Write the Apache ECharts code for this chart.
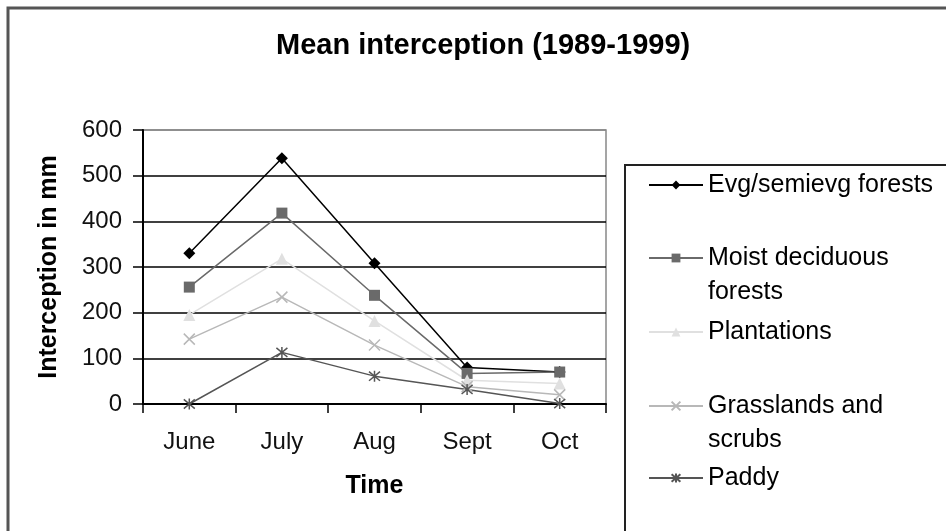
<!DOCTYPE html>
<html>
<head>
<meta charset="utf-8">
<script src="https://cdn.jsdelivr.net/npm/echarts@6/dist/echarts.min.js"></script>
<style>
  html, body { margin: 0; padding: 0; background: #fff; }
  #chart { width: 946px; height: 531px; }
</style>
</head>
<body>
<div id="chart"></div>
<script>
const months = ['June', 'July', 'Aug', 'Sept', 'Oct']
const evgForests = [330, 538, 308, 80, 70]
const moistForests = [256, 418, 238, 67, 70]
const plantations = [195, 318, 182, 52, 45]
const grasslands = [142, 234, 129, 38, 20]
const paddy = [0, 113, 61, 32, 1]

const font = 'Liberation Sans, Arial, sans-serif'
const crossPath = 'path://M0,0L10,10M10,0L0,10'
const starPath = 'path://M0,0L10,10M10,0L0,10M5,-1L5,11'

const chart = echarts.init(document.getElementById('chart'))

// one small legend per entry so the rows can sit where the reference has them
const legendRow = (name, centerY, lines) => ({
  data: [name],
  left: 648,
  top: centerY - (lines === 3 ? 51 : 17),
  padding: 0,
  itemWidth: 54,
  itemHeight: 11,
  itemGap: 5,
  selectedMode: false,
  formatter: (n) => {
    if (n === 'Moist deciduous forests') return '\nMoist deciduous\nforests'
    if (n === 'Grasslands and scrubs') return '\nGrasslands and\nscrubs'
    return n
  },
  textStyle: { fontFamily: font, fontSize: 25, color: '#000', lineHeight: 34 },
})

const lineSeries = (name, data, color, symbol, size, extra) => Object.assign({
  name: name,
  type: 'line',
  data: data,
  symbol: symbol,
  symbolSize: size,
  showAllSymbol: true,
  lineStyle: { color: color, width: 1.5 },
  itemStyle: { color: color, borderColor: color, borderWidth: 0 },
}, extra || {})

chart.setOption({
  animation: false,
  backgroundColor: '#fff',
  title: {
    text: 'Mean interception (1989-1999)',
    left: 276,
    top: 31,
    padding: 0,
    textStyle: { fontFamily: font, fontSize: 29, fontWeight: 'bold', color: '#000' },
  },
  graphic: [
    // outer chart frame, running off the right and bottom edge
    { type: 'rect', shape: { x: 8, y: 8, width: 1100, height: 700 }, style: { fill: 'none', stroke: '#555', lineWidth: 3 }, z: 0 },
    // legend frame
    { type: 'rect', shape: { x: 625, y: 165, width: 500, height: 500 }, style: { fill: 'none', stroke: '#222', lineWidth: 2 }, z: 0 },
  ],
  legend: [
    legendRow('Evg/semievg forests', 185, 1),
    legendRow('Moist deciduous forests', 258, 3),
    legendRow('Plantations', 332, 1),
    legendRow('Grasslands and scrubs', 406, 3),
    legendRow('Paddy', 478, 1),
  ],
  grid: {
    left: 143,
    right: 340,
    top: 130,
    bottom: 127,
    show: true,
    borderColor: '#888',
    borderWidth: 1.5,
  },
  xAxis: {
    type: 'category',
    data: months,
    boundaryGap: true,
    name: 'Time',
    nameLocation: 'middle',
    nameGap: 70,
    nameTextStyle: { fontFamily: font, fontSize: 25, fontWeight: 'bold', color: '#000' },
    axisLine: { lineStyle: { color: '#000', width: 2 } },
    axisTick: { show: true, length: 9, lineStyle: { color: '#000', width: 1.5 } },
    axisLabel: { fontFamily: font, fontSize: 24, color: '#111', margin: 26 },
  },
  yAxis: {
    type: 'value',
    min: 0,
    max: 600,
    interval: 100,
    name: 'Interception in mm',
    nameLocation: 'middle',
    nameGap: 81,
    nameTextStyle: { fontFamily: font, fontSize: 25, fontWeight: 'bold', color: '#000' },
    axisLine: { show: true, lineStyle: { color: '#000', width: 2 } },
    axisTick: { show: true, length: 10, lineStyle: { color: '#000', width: 1.5 } },
    axisLabel: { fontFamily: font, fontSize: 24, color: '#111', margin: 21 },
    splitLine: {
      show: true,
      lineStyle: { color: ['#000', '#000', '#000', '#000', '#000', '#000', '#888'], width: 1.5 },
    },
  },
  // later series paint on top, like the reference (Moist square over Evg at Oct)
  series: [
    lineSeries('Evg/semievg forests', evgForests, '#000', 'diamond', 12),
    lineSeries('Moist deciduous forests', moistForests, '#6a6a6a', 'rect', 11),
    lineSeries('Plantations', plantations, '#e0e0e0', 'triangle', 12),
    lineSeries('Grasslands and scrubs', grasslands, '#b8b8b8', crossPath, 11, { itemStyle: { color: '#b8b8b8', borderColor: '#b8b8b8', borderWidth: 1.5 } }),
    lineSeries('Paddy', paddy, '#555', starPath, 11, { itemStyle: { color: '#555', borderColor: '#555', borderWidth: 1.5 } }),
  ],
})

window.addEventListener('resize', () => chart.resize())
</script>
</body>
</html>
